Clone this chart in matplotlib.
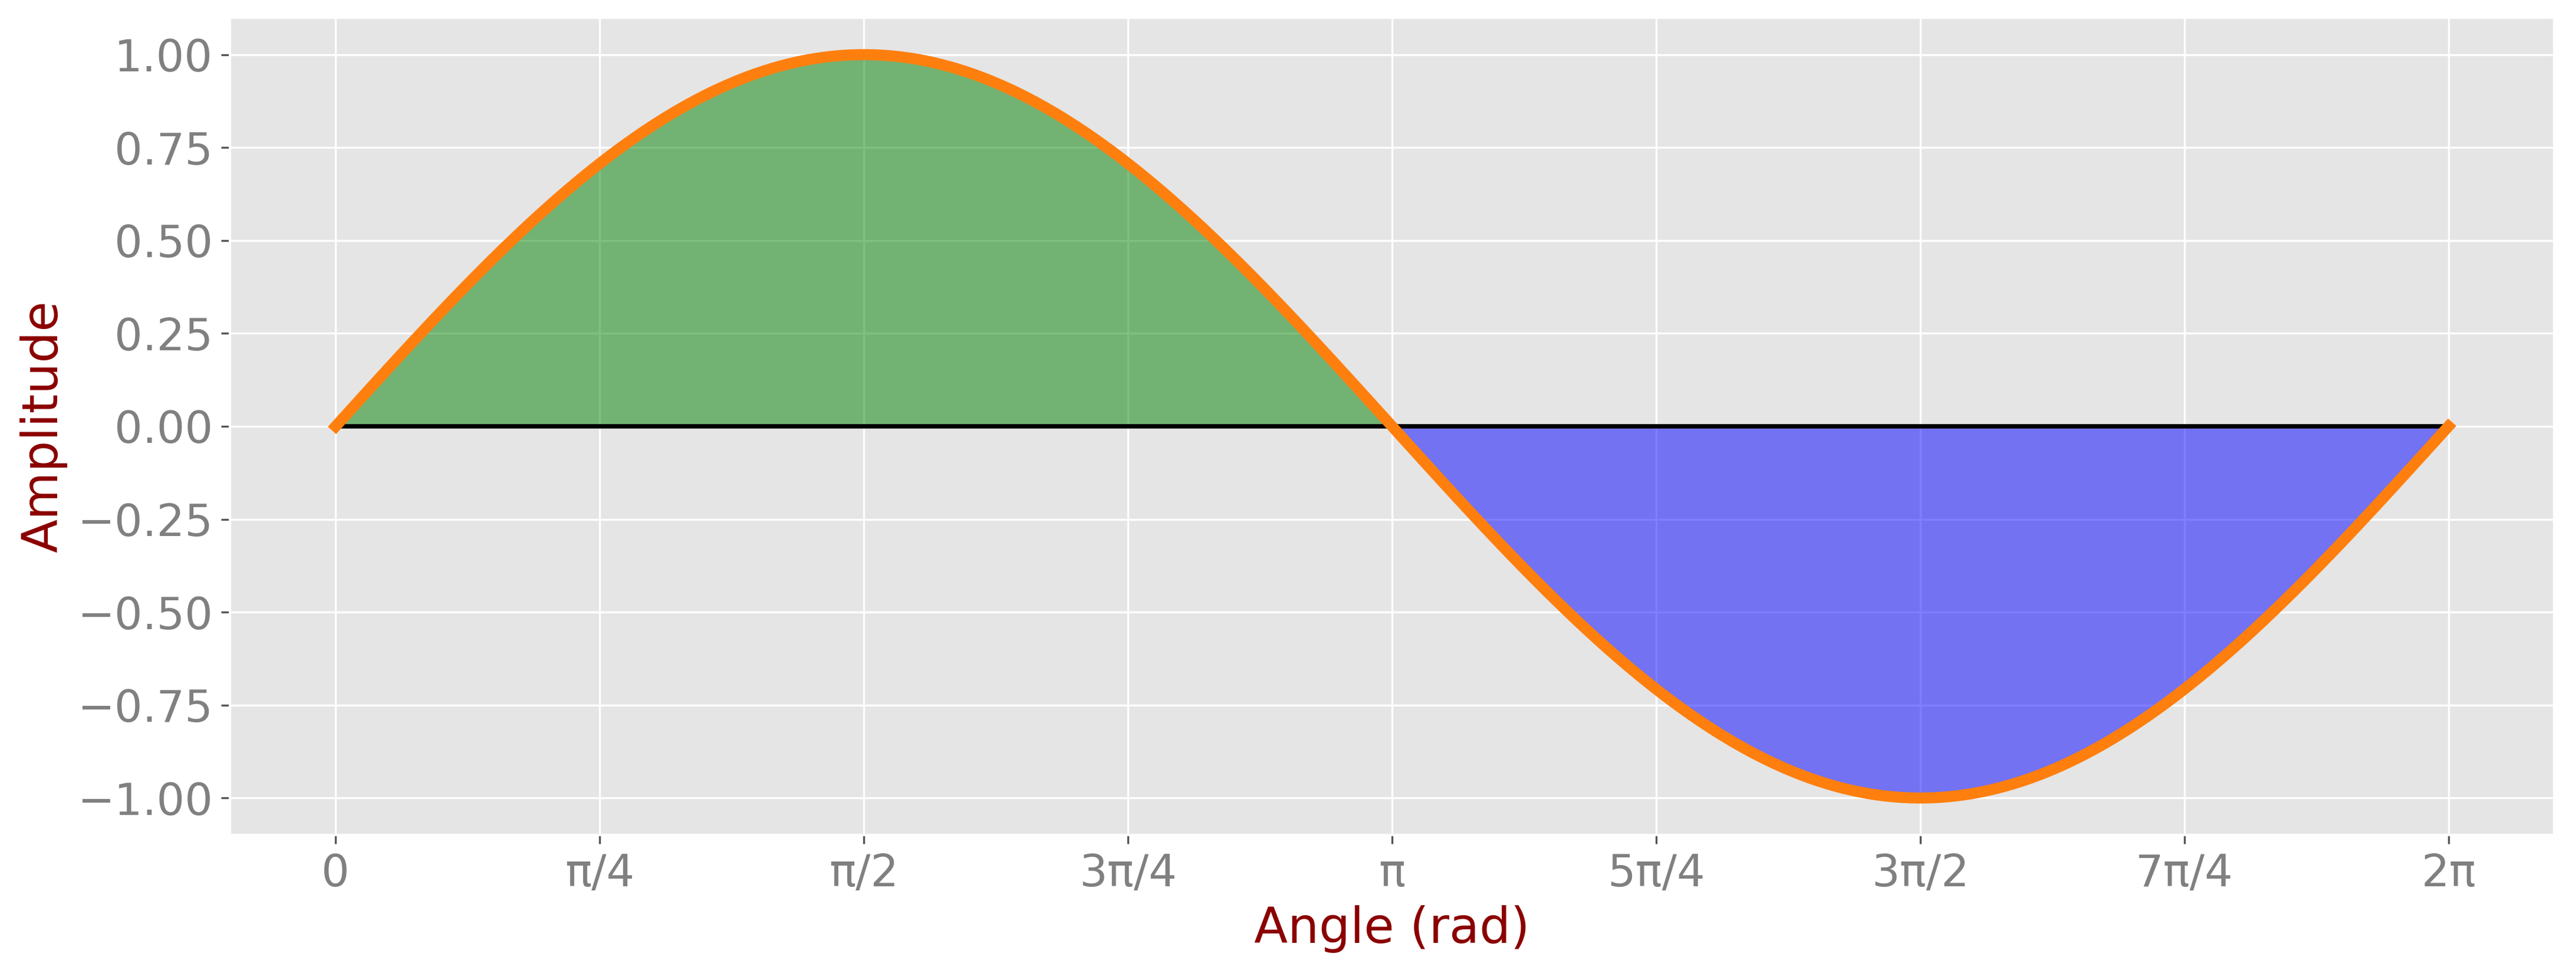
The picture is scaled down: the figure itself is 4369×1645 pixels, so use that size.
import matplotlib
matplotlib.use("Agg")
import matplotlib.pyplot as plt
import numpy as np

plt.style.use("ggplot")

# data
angle = np.linspace(0, 2 * np.pi, 500)
amplitude = np.sin(angle)
baseline = np.zeros_like(angle)

tick_pos = [0, np.pi / 4, np.pi / 2, 3 * np.pi / 4, np.pi,
            5 * np.pi / 4, 3 * np.pi / 2, 7 * np.pi / 4, 2 * np.pi]
tick_labels = ["0", "π/4", "π/2", "3π/4", "π", "5π/4", "3π/2", "7π/4", "2π"]
y_ticks = [-1.0, -0.75, -0.5, -0.25, 0.0, 0.25, 0.5, 0.75, 1.0]

fig, ax = plt.subplots(figsize=(4369 / 300, 1645 / 300), dpi=300)
fig.subplots_adjust(left=0.0893, right=0.9915, top=0.982, bottom=0.139)

ax.fill_between(angle, amplitude, baseline, where=amplitude >= 0,
                color="green", alpha=0.5, linewidth=0, interpolate=True)
ax.fill_between(angle, amplitude, baseline, where=amplitude <= 0,
                color="blue", alpha=0.5, linewidth=0, interpolate=True)
ax.plot(angle, baseline, color="black", linewidth=1.8)
ax.plot(angle, amplitude, color="#ff7f0e", linewidth=4.5)

ax.set_xticks(tick_pos)
ax.set_xticklabels(tick_labels)
ax.set_yticks(y_ticks)
ax.tick_params(axis="both", labelsize=18, colors="#555555")
ax.tick_params(axis="both", labelcolor="gray")

ax.set_xlabel("Angle (rad)", fontsize=20, color="darkred")
ax.set_ylabel("Amplitude", fontsize=20, color="darkred")

fig.savefig("out.png", dpi=300)
